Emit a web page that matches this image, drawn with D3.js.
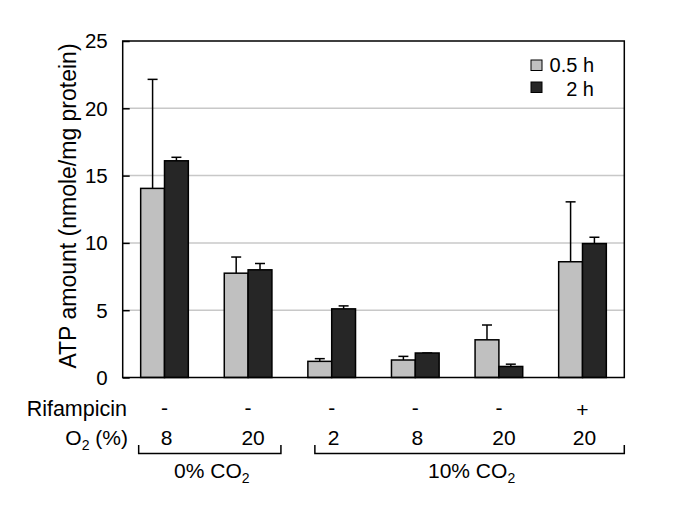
<!DOCTYPE html>
<html>
<head>
<meta charset="utf-8">
<script src="https://cdn.jsdelivr.net/npm/d3@7"></script>
<style>
  body { margin: 0; background: #fff; }
  text { font-family: "Liberation Sans", Arial, sans-serif; fill: #000; }
</style>
</head>
<body>
<div id="canvas"></div>
<script>
"use strict"

// data
let conditions = ["c1", "c2", "c3", "c4", "c5", "c6"];
let rifampicin = ["-", "-", "-", "-", "-", "+"];
let oxygen = ["8", "20", "2", "8", "20", "20"];
let seriesNames = ["0.5 h", "2 h"];
let atpHalfHour = [14.05, 7.75, 1.2, 1.3, 2.8, 8.6];
let errHalfHour = [8.1, 1.2, 0.2, 0.27, 1.1, 4.45];
let atpTwoHours = [16.1, 8.0, 5.1, 1.82, 0.82, 9.95];
let errTwoHours = [0.26, 0.47, 0.22, 0, 0.17, 0.47];
let yTicks = [0, 5, 10, 15, 20, 25];
let co2Groups = [
    { label: "0% CO", from: 0, to: 1 },
    { label: "10% CO", from: 2, to: 5 }
];

let seriesColors = ["#c0c0c0", "#262626"];

let width = 685, height = 526;
let plotLeft = 122.7, plotRight = 624.3, plotTop = 41, plotBottom = 377.5;

let drawing = d3.select("#canvas")
    .append("svg")
    .attr("width", width)
    .attr("height", height);

drawing.append("rect")
    .attr("width", width)
    .attr("height", height)
    .attr("fill", "white");

// scales
let x = d3.scaleBand()
    .domain(conditions)
    .range([plotLeft, plotRight])
    .paddingInner(0.43)
    .paddingOuter(0.215);

let xSeries = d3.scaleBand()
    .domain(seriesNames)
    .range([0, x.bandwidth()]);

let y = d3.scaleLinear()
    .domain([0, 25])
    .range([plotBottom, plotTop]);

// gridlines
drawing.append("g")
    .selectAll("line")
    .data(yTicks.filter(d => d > 0 && d < 25))
    .join("line")
    .attr("x1", plotLeft)
    .attr("x2", plotRight)
    .attr("y1", d => y(d))
    .attr("y2", d => y(d))
    .attr("stroke", "#c8c8c8")
    .attr("stroke-width", 1.5);

// y axis, ticks pointing inward
let yAxis = drawing.append("g")
    .attr("transform", "translate(" + plotLeft + ",0)")
    .call(d3.axisRight(y).tickValues(yTicks).tickSize(7).tickFormat(""));
yAxis.select(".domain").remove();
yAxis.selectAll("line").attr("stroke", "#000").attr("stroke-width", 1.5);

drawing.append("g")
    .selectAll("text")
    .data(yTicks)
    .join("text")
    .attr("x", plotLeft - 15)
    .attr("y", d => y(d))
    .attr("dy", "0.36em")
    .attr("text-anchor", "end")
    .attr("font-size", 20.5)
    .text(d => d);

// y title
drawing.append("text")
    .attr("transform", "translate(76,206) rotate(-90)")
    .attr("text-anchor", "middle")
    .attr("font-size", 23)
    .text("ATP amount (nmole/mg protein)");

// bars
let rows = conditions.map((c, i) => ({
    cond: c,
    bars: [
        { s: seriesNames[0], v: atpHalfHour[i], e: errHalfHour[i], color: seriesColors[0] },
        { s: seriesNames[1], v: atpTwoHours[i], e: errTwoHours[i], color: seriesColors[1] }
    ]
}));

let groupsG = drawing.append("g")
    .selectAll("g")
    .data(rows)
    .join("g")
    .attr("transform", d => "translate(" + x(d.cond) + ",0)");

// error bars go behind so the bar outline stays clean
groupsG.selectAll("line.err")
    .data(d => d.bars)
    .join("line")
    .attr("class", "err")
    .attr("x1", d => xSeries(d.s) + xSeries.bandwidth() / 2)
    .attr("x2", d => xSeries(d.s) + xSeries.bandwidth() / 2)
    .attr("y1", d => y(d.v))
    .attr("y2", d => y(d.v + d.e))
    .attr("stroke", "#000")
    .attr("stroke-width", 1.5);

groupsG.selectAll("line.cap")
    .data(d => d.bars)
    .join("line")
    .attr("class", "cap")
    .attr("x1", d => xSeries(d.s) + xSeries.bandwidth() / 2 - 5)
    .attr("x2", d => xSeries(d.s) + xSeries.bandwidth() / 2 + 5)
    .attr("y1", d => y(d.v + d.e))
    .attr("y2", d => y(d.v + d.e))
    .attr("stroke", "#000")
    .attr("stroke-width", 1.5);

groupsG.selectAll("rect")
    .data(d => d.bars)
    .join("rect")
    .attr("x", d => xSeries(d.s))
    .attr("y", d => y(d.v))
    .attr("width", xSeries.bandwidth())
    .attr("height", d => y(0) - y(d.v))
    .attr("fill", d => d.color)
    .attr("stroke", "#000")
    .attr("stroke-width", 1.5);

// frame
drawing.append("rect")
    .attr("x", plotLeft)
    .attr("y", plotTop)
    .attr("width", plotRight - plotLeft)
    .attr("height", plotBottom - plotTop)
    .attr("fill", "none")
    .attr("stroke", "#000")
    .attr("stroke-width", 1.5);

// legend
let legend = drawing.append("g");
seriesNames.forEach((name, i) => {
    legend.append("rect")
        .attr("x", 531)
        .attr("y", 60 + i * 22)
        .attr("width", 11)
        .attr("height", 10.5)
        .attr("fill", seriesColors[i])
        .attr("stroke", "#000")
        .attr("stroke-width", 1);
    legend.append("text")
        .attr("x", 594)
        .attr("y", 72 + i * 23.5)
        .attr("text-anchor", "end")
        .attr("font-size", 20)
        .text(name);
});

// condition rows under the axis
let center = c => x(c) + x.bandwidth() / 2;

drawing.append("text")
    .attr("x", 127)
    .attr("y", 416)
    .attr("text-anchor", "end")
    .attr("font-size", 21.5)
    .text("Rifampicin");

drawing.append("g")
    .selectAll("text")
    .data(conditions)
    .join("text")
    .attr("x", d => center(d))
    .attr("y", (d, i) => rifampicin[i] == "+" ? 417 : 415)
    .attr("text-anchor", "middle")
    .attr("font-size", 21)
    .text((d, i) => rifampicin[i]);

let o2Label = drawing.append("text")
    .attr("x", 128)
    .attr("y", 445)
    .attr("text-anchor", "end")
    .attr("font-size", 21);
o2Label.append("tspan").text("O");
o2Label.append("tspan").attr("font-size", 14).attr("dy", 5).text("2");
o2Label.append("tspan").attr("dy", -5).text(" (%)");

drawing.append("g")
    .selectAll("text")
    .data(conditions)
    .join("text")
    .attr("x", (d, i) => center(d) + (i == 1 || i == 4 ? 5 : 2))
    .attr("y", 445)
    .attr("text-anchor", "middle")
    .attr("font-size", 21)
    .text((d, i) => oxygen[i]);

// CO2 brackets
co2Groups.forEach((g, i) => {
    let x1 = i == 0 ? x(conditions[g.from]) - 2 : x(conditions[g.from]) + 7;
    let x2 = i == 0 ? x(conditions[g.to]) + x.bandwidth() + 9 : plotRight;
    drawing.append("path")
        .attr("d", "M" + x1 + ",445V453.5H" + x2 + "V445")
        .attr("fill", "none")
        .attr("stroke", "#000")
        .attr("stroke-width", 1.5);
    let t = drawing.append("text")
        .attr("x", (x1 + x2) / 2 + 2)
        .attr("y", 478)
        .attr("text-anchor", "middle")
        .attr("font-size", 21);
    t.append("tspan").text(g.label);
    t.append("tspan").attr("font-size", 14).attr("dy", 5).text("2");
});
</script>
</body>
</html>
